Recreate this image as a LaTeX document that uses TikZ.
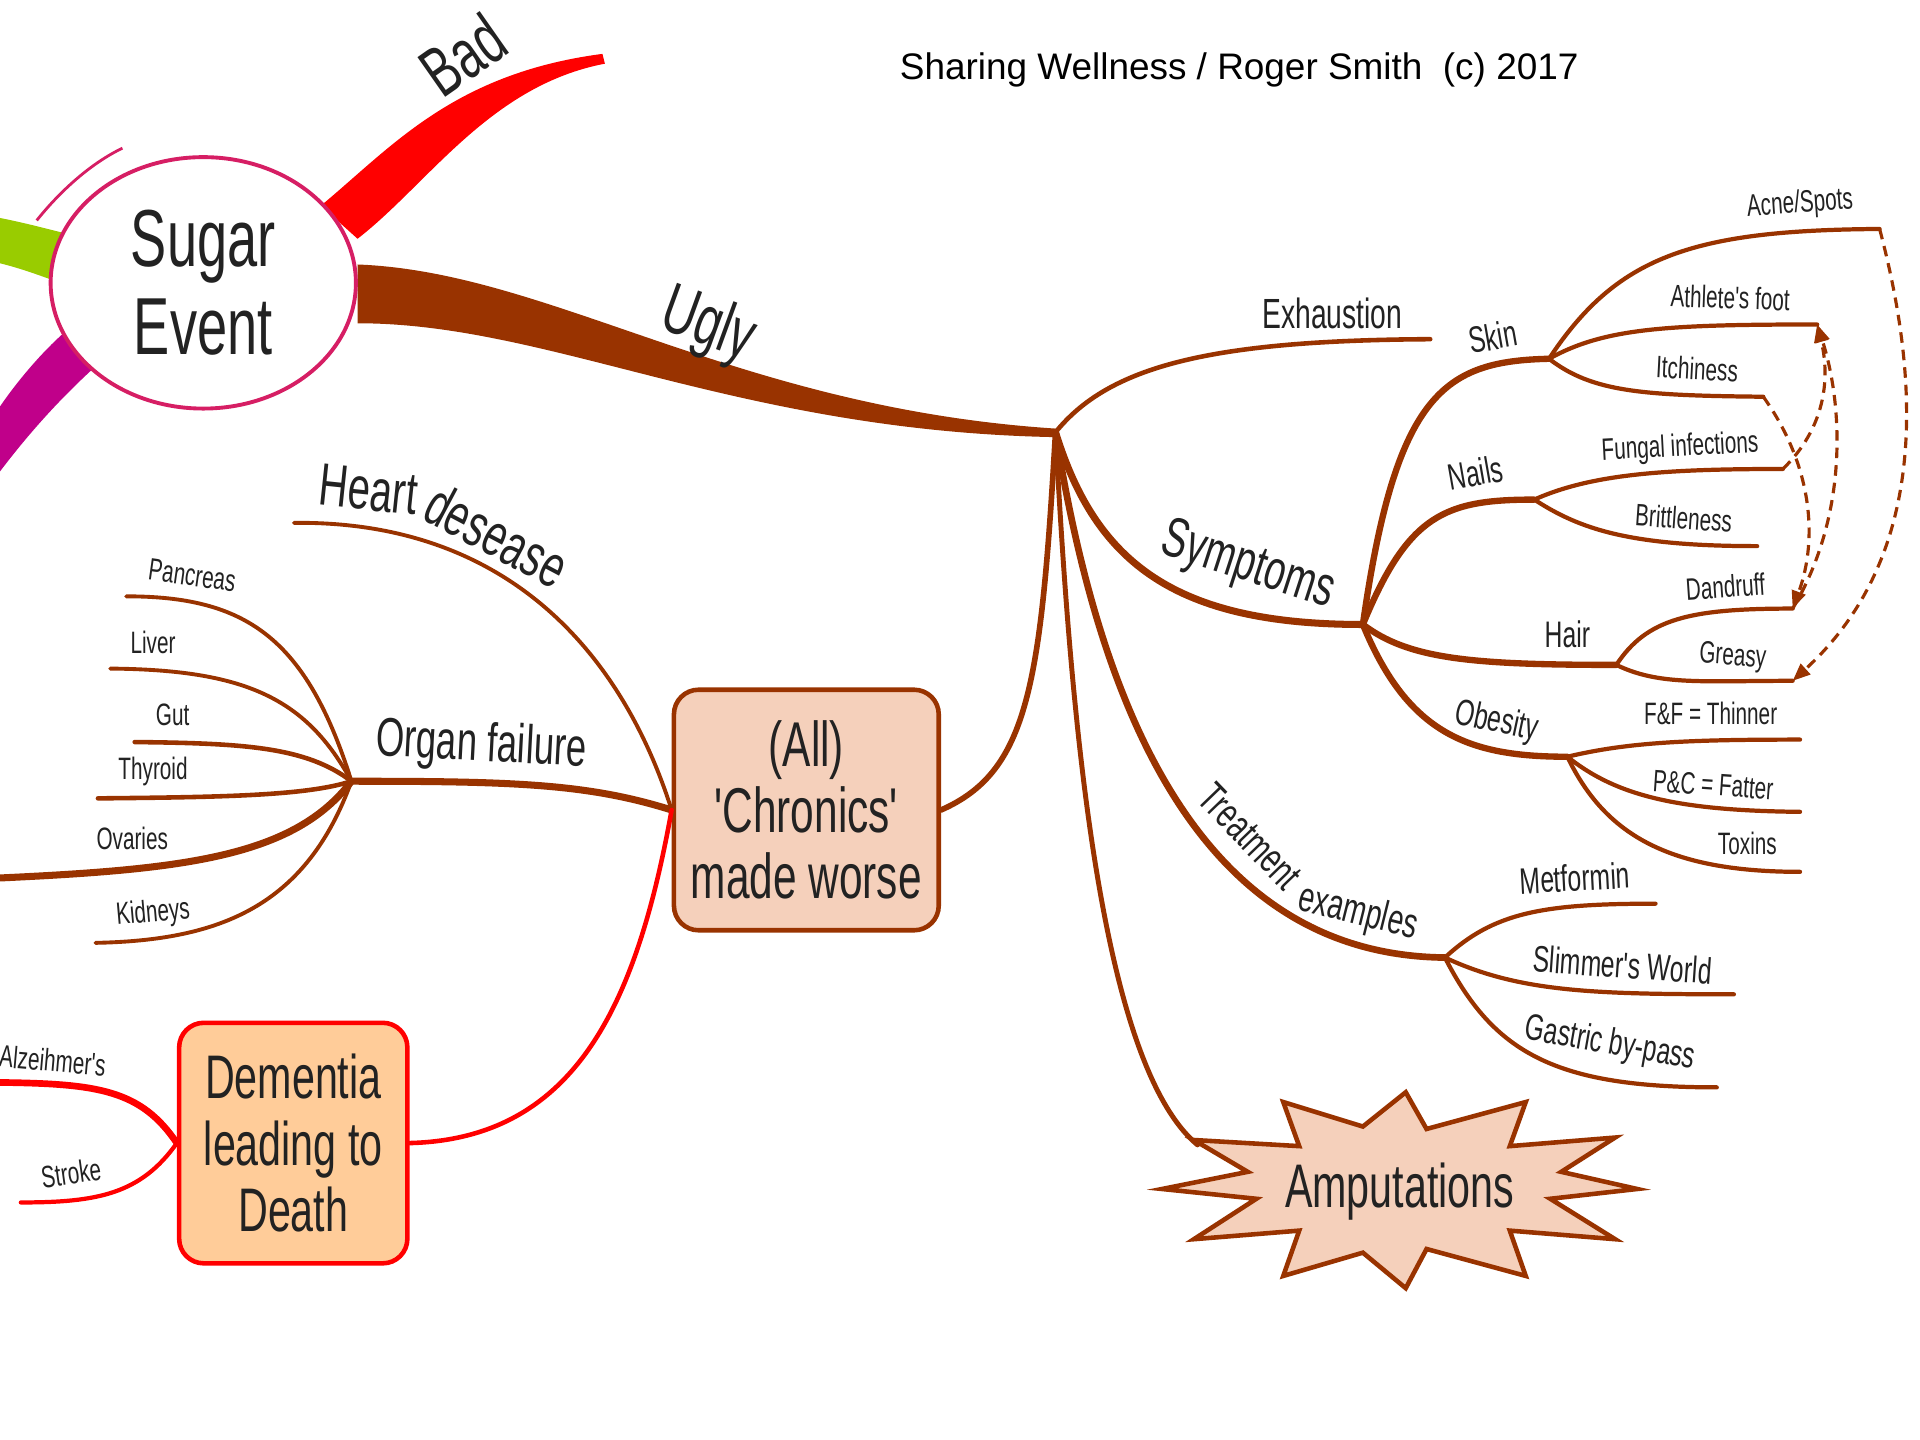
\documentclass[tikz,border=0pt]{standalone}
\usepackage{fontspec}
\newfontfamily\lab{Liberation Sans}[FakeStretch=0.67]
\newfontfamily\titlef{Liberation Sans}
\usetikzlibrary{shapes.geometric,arrows.meta}
\definecolor{brn}{RGB}{153,51,0}
\definecolor{peach}{RGB}{245,208,187}
\definecolor{dfill}{RGB}{255,204,153}
\definecolor{pinkb}{RGB}{214,30,100}
\definecolor{grn}{RGB}{153,204,0}
\definecolor{mag}{RGB}{192,0,138}
\definecolor{txt}{RGB}{34,34,34}
\begin{document}
\begin{tikzpicture}[x=0.012245cm,y=-0.012245cm,
  lbl/.style={inner sep=0pt,text=txt},
  s88/.style={lbl,font={\lab\fontsize{8.8pt}{10pt}\selectfont}},
  s10/.style={lbl,font={\lab\fontsize{10.5pt}{12pt}\selectfont}},
  s12/.style={lbl,font={\lab\fontsize{12pt}{14pt}\selectfont}},
  s16/.style={lbl,font={\lab\fontsize{16pt}{18pt}\selectfont}},
  s17/.style={lbl,font={\lab\fontsize{17pt}{19pt}\selectfont}},
  s20/.style={lbl,font={\lab\fontsize{20pt}{22pt}\selectfont}},
  br/.style={draw=brn,line cap=round,line width=#1},
  br/.default=1.2pt,
  rd/.style={draw=red,line cap=round,line width=#1},
  rd/.default=1.3pt,
  dsh/.style={draw=brn,line width=0.9pt,dash pattern=on 3pt off 2pt,-{Triangle[length=5pt,width=4pt]}},
]
\fill[white] (0,0) rectangle (1568,1176);
\useasboundingbox (0,0) rectangle (1568,1176);
\clip (0,0) rectangle (1568,1176);

% title
\node[inner sep=0pt,font={\titlef\fontsize{10.5pt}{12pt}\selectfont}] (title) at (1012,57) {Sharing Wellness / Roger Smith \ (c) 2017};

% main thick branches
\fill[grn] (0,178) .. controls (20,182) and (35,186) .. (55,191) -- (55,233) .. controls (35,226) and (20,220) .. (0,215) -- cycle;
\fill[mag] (0,332) .. controls (15,310) and (35,287) .. (52,272) -- (75,302) .. controls (50,325) and (25,352) .. (0,385) -- cycle;
\fill[red] (262,168) .. controls (320,120) and (370,60) .. (492,44) -- (494,52) .. controls (400,70) and (350,150) .. (292,195) -- cycle;
\fill[brn] (292,216) .. controls (450,222) and (600,333) .. (862,350) -- (862,357) .. controls (600,352) and (450,264) .. (292,264) -- cycle;

% central topic
\draw[pinkb,line width=0.8pt] (30,180) .. controls (50,155) and (75,133) .. (100,121);
\node[ellipse,draw=pinkb,fill=white,line width=1.1pt,minimum width=86.8pt,minimum height=71.5pt,inner sep=0pt,align=center,text=txt,font={\lab\fontsize{23pt}{25pt}\selectfont}] (sugar) at (166,231) {Sugar\\Event};
\node[s20,rotate=35] (bad) at (378,45) {Bad};
\node[s20,rotate=-20] (ugly) at (578,267) {Ugly};

% coordinates
\coordinate (hub) at (862,353);
\coordinate (sym) at (1113,510);
\coordinate (skin) at (1265,293);
\coordinate (nails) at (1253,408);
\coordinate (hair) at (1320,543);
\coordinate (obes) at (1280,618);
\coordinate (treat) at (1180,782);
\coordinate (organ) at (287,638);
\coordinate (eExh) at (1168,277);
\coordinate (eAcne) at (1535,187);
\coordinate (eAth) at (1484,265);
\coordinate (eItch) at (1440,324);
\coordinate (eFung) at (1456,383);
\coordinate (eBritt) at (1435,446);
\coordinate (eDand) at (1464,497);
\coordinate (eGreasy) at (1464,556);
\coordinate (eFF) at (1470,604);
\coordinate (ePC) at (1470,663);
\coordinate (eTox) at (1470,712);
\coordinate (eMet) at (1352,738);
\coordinate (eSlim) at (1416,812);
\coordinate (eGast) at (1402,888);
\coordinate (eHeart) at (240,427);
\coordinate (ePanc) at (103,487);
\coordinate (eLiver) at (90,546);
\coordinate (eGut) at (110,606);
\coordinate (eThy) at (80,652);
\coordinate (eOva) at (0,717);
\coordinate (eKid) at (78,770);
\coordinate (eAlz) at (0,884);
\coordinate (eStroke) at (17,982);
\coordinate (eAmp) at (978,935);

% boxes
\node[draw=brn,fill=peach,line width=1.3pt,rounded corners=7pt,minimum width=75.3pt,minimum height=68.4pt,inner sep=0pt,align=center,text=txt,font={\lab\fontsize{18pt}{18.7pt}\selectfont}] (chron) at (658.5,661.5) {(All)\\\symbol{39}Chronics\symbol{39}\\made worse};
\node[draw=red,fill=dfill,line width=1.3pt,rounded corners=7pt,minimum width=64.9pt,minimum height=68.4pt,inner sep=0pt,align=center,text=txt,font={\lab\fontsize{17.5pt}{19pt}\selectfont}] (dem) at (239.5,933.5) {Dementia\\leading to\\Death};

% star
\filldraw[draw=brn,fill=peach,line width=1.3pt] (1148,892) -- (1165,922) -- (1246,900) -- (1233,936) -- (1319,929) -- (1275,957) -- (1337,971) -- (1266,979) -- (1319,1012) -- (1233,1005) -- (1246,1042) -- (1165,1020) -- (1148,1052) -- (1113,1023) -- (1048,1042) -- (1061,1005) -- (975,1012) -- (1026,979) -- (949,971) -- (1019,957) -- (975,931) -- (1061,936) -- (1048,900) -- (1113,920) -- cycle;
\node[lbl,font={\lab\fontsize{17.5pt}{19pt}\selectfont}] (amp) at (1143,973) {Amputations};

% hub branches
\draw[br=1.3pt] (hub) .. controls (905,300) and (985,278) .. (eExh);
\draw[br=2pt] (hub) .. controls (895,460) and (960,510) .. (sym);
\draw[br=1.9pt] (hub) .. controls (900,590) and (985,780) .. (treat);
\draw[br=1.4pt] (hub) .. controls (875,600) and (900,870) .. (eAmp);
\draw[br=1.6pt] (hub) .. controls (850,560) and (840,630) .. (chron.east);

% symptoms sub-branches
\draw[br=1.8pt] (sym) .. controls (1140,320) and (1180,295) .. (skin);
\draw[br=1.8pt] (sym) .. controls (1150,420) and (1180,408) .. (nails);
\draw[br=1.8pt] (sym) .. controls (1150,538) and (1200,543) .. (hair);
\draw[br=1.8pt] (sym) .. controls (1150,600) and (1200,618) .. (obes);
\draw[br] (skin) .. controls (1320,210) and (1380,188) .. (eAcne);
\draw[br] (skin) .. controls (1310,268) and (1360,265) .. (eAth);
\draw[br] (skin) .. controls (1300,320) and (1340,323) .. (eItch);
\draw[br] (nails) .. controls (1300,387) and (1360,383) .. (eFung);
\draw[br] (nails) .. controls (1290,432) and (1330,446) .. (eBritt);
\draw[br] (hair) .. controls (1345,505) and (1380,497) .. (eDand);
\draw[br] (hair) .. controls (1355,560) and (1390,556) .. (eGreasy);
\draw[br] (obes) .. controls (1330,606) and (1380,604) .. (eFF);
\draw[br] (obes) .. controls (1320,650) and (1370,662) .. (ePC);
\draw[br] (obes) .. controls (1310,680) and (1360,712) .. (eTox);
\draw[br] (treat) .. controls (1220,745) and (1260,738) .. (eMet);
\draw[br] (treat) .. controls (1240,810) and (1300,812) .. (eSlim);
\draw[br] (treat) .. controls (1220,860) and (1270,888) .. (eGast);

% dashed links
\draw[dsh] (eAcne) .. controls (1565,300) and (1580,450) .. (eGreasy);
\draw[dsh] (eItch) .. controls (1480,380) and (1485,440) .. (eDand);
\draw[dsh] (eFung) .. controls (1490,350) and (1495,310) .. (eAth);
\draw[dsh] (eDand) .. controls (1510,420) and (1505,330) .. (eAth);

% left branches
\draw[br=1.1pt] (chron.west) .. controls (510,540) and (420,425) .. (eHeart);
\draw[br=2pt] (chron.west) .. controls (480,640) and (420,638) .. (organ);
\draw[br=1.1pt] (organ) .. controls (250,520) and (200,487) .. (ePanc);
\draw[br=1.1pt] (organ) .. controls (250,570) and (200,547) .. (eLiver);
\draw[br=1.3pt] (organ) .. controls (250,610) and (200,607) .. (eGut);
\draw[br=1.3pt] (organ) .. controls (250,650) and (180,651) .. (eThy);
\draw[br=2pt] (organ) .. controls (240,700) and (150,710) .. (eOva);
\draw[br=1.1pt] (organ) .. controls (250,740) and (180,768) .. (eKid);
\draw[rd] (chron.west) .. controls (520,820) and (470,930) .. (dem.east);
\draw[rd=1.9pt] (dem.west) .. controls (115,890) and (80,885) .. (eAlz);
\draw[rd=1.2pt] (dem.west) .. controls (115,975) and (80,982) .. (eStroke);

% labels
\node[s12] (lExh) at (1088,256) {Exhaustion};
\node[s16,rotate=-18] (lSym) at (1019,463) {Symptoms};
\node[s10,rotate=10] (lSkin) at (1219,275) {Skin};
\node[s10,rotate=10] (lNails) at (1205,386) {Nails};
\node[s10] (lHair) at (1280,518) {Hair};
\node[s10,rotate=-12] (lObes) at (1222,590) {Obesity};
\node[s88,rotate=4] (lAcne) at (1470,167) {Acne/Spots};
\node[s88,rotate=-2] (lAth) at (1413,243) {Athlete's foot};
\node[s88,rotate=-3] (lItch) at (1386,301) {Itchiness};
\node[s88,rotate=3] (lFung) at (1372,366) {Fungal infections};
\node[s88,rotate=-4] (lBritt) at (1375,423) {Brittleness};
\node[s88,rotate=4] (lDand) at (1409,479) {Dandruff};
\node[s88,rotate=-4] (lGreasy) at (1415,537) {Greasy};
\node[s88] (lFF) at (1397,583) {F\&F = Thinner};
\node[s88,rotate=-4] (lPC) at (1399,641) {P\&C = Fatter};
\node[s88] (lTox) at (1427,689) {Toxins};
\node[s12,rotate=-46] (lTreat) at (1021,683) {Treatment};
\node[s12,rotate=-14] (lTreat2) at (1109,746) {examples};
\node[s10,rotate=3] (lMet) at (1286,717) {Metformin};
\node[s10,rotate=-4] (lSlim) at (1325,788) {Slimmer's World};
\node[s10,rotate=-10] (lGast) at (1315,853) {Gastric by-pass};
\node[s17,rotate=-6] (lHeart) at (301,400) {Heart};
\node[s17,rotate=-28] (lHeart2) at (406,437) {desease};
\node[lbl,font={\lab\fontsize{15.5pt}{17pt}\selectfont},rotate=-3] (lOrgan) at (393,610) {Organ failure};
\node[s88,rotate=-8] (lPanc) at (157,470) {Pancreas};
\node[s88] (lLiver) at (125,525) {Liver};
\node[s88] (lGut) at (141,584) {Gut};
\node[s88] (lThy) at (125,630) {Thyroid};
\node[s88] (lOva) at (108,685) {Ovaries};
\node[s88,rotate=5] (lKid) at (125,746) {Kidneys};
\node[s88,rotate=-5] (lAlz) at (43,866) {Alzeihmer's};
\node[s88,rotate=8] (lStroke) at (58,958) {Stroke};
\end{tikzpicture}
\end{document}
